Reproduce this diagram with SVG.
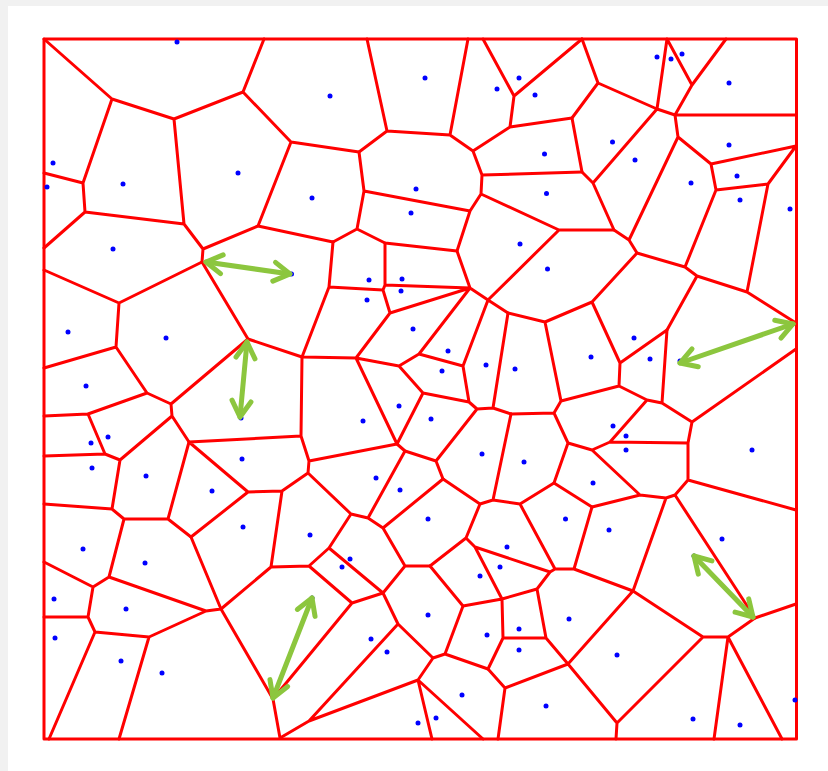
<svg xmlns="http://www.w3.org/2000/svg" width="828" height="771" viewBox="0 0 828 771">
<style>
.edge{fill:none;stroke:#ff0000;stroke-width:3;stroke-linejoin:round;stroke-linecap:round}
.site{fill:#0000ff}
.arrow{fill:none;stroke:#8cc63e;stroke-width:5;stroke-linecap:round;stroke-linejoin:round}
</style>
<defs>
<marker id="chev" markerUnits="userSpaceOnUse" orient="auto-start-reverse" viewBox="-22 -14 28 28" markerWidth="28" markerHeight="28" refX="0" refY="0" overflow="visible">
<path d="M-16,-9.5 L0,0 L-16,9.5" fill="none" stroke="#8cc63e" stroke-width="5" stroke-linecap="round" stroke-linejoin="round"/>
</marker>
</defs>
<rect x="0" y="0" width="828" height="771" fill="#f1f1f1"/>
<rect x="8" y="6" width="820" height="765" fill="#ffffff"/>
<g id="frame"><rect class="edge" x="44" y="39" width="752.5" height="700"/></g>
<g id="cell-edges" class="edge">
<path d="M44,39L112,99M112,99L174,119M174,119L243,92M243,92L264,39M243,92L291,142M112,99L83,183M83,183L44,173M83,183L85,212M85,212L44,248M85,212L184,224M174,119L184,224M184,224L203,249M203,249L258,226M258,226L291,142M203,249L202,262M291,142L359,152M258,226L333,242"/>
<path d="M367,39L387,131M387,131L450,135M450,135L468,39M387,131L359,152M359,152L364,191M364,191L357,229M364,191L470,211M357,229L333,242M357,229L385,243M385,243L457,251M457,251L470,211M470,211L481,194M481,194L482,175M482,175L473,151M473,151L450,135M473,151L510,127M510,127L514,96M514,96L483,39M514,96L582,39M510,127L572,118M482,175L582,172M481,194L559,230M559,230L614,230M559,230L488,300"/>
<path d="M582,39L598,83M598,83L572,118M598,83L657,109M657,109L667,39M657,109L675,115M667,39L692,85M692,85L726,39M692,85L675,115M675,115L796,115M675,115L678,137M572,118L582,172M582,172L593,183M593,183L657,109M593,183L614,230M614,230L629,240M678,137L629,240M678,137L711,164M711,164L796,146M711,164L716,190M716,190L768,184M768,184L796,146M768,184L747,292M716,190L685,267M629,240L637,253M637,253L685,267M685,267L697,276M697,276L747,292M747,292L796,323M697,276L667,330"/>
<path d="M637,253L592,302M592,302L545,322M545,322L508,313M545,322L561,401M561,401L554,413M554,413L511,414M561,401L619,386M592,302L620,363M620,363L619,386M620,363L667,330M667,330L662,403M619,386L647,400M647,400L662,403M662,403L692,422M692,422L796,349M692,422L688,443M688,443L610,442M647,400L610,442M610,442L592,450M592,450L568,443M568,443L554,413M568,443L554,483M554,483L592,507M592,450L640,495M640,495L592,507M640,495L666,498M666,498L675,495M675,495L688,480M688,480L688,443M688,480L796,510M666,498L633,591M675,495L755,618"/>
<path d="M592,507L574,569M574,569L555,569M574,569L633,591M633,591L703,637M703,637L728,637M728,637L755,618M755,618L796,604M728,637L714,739M728,637L782,739M703,637L617,723M617,723L616,739M617,723L568,664M568,664L633,591M568,664L546,638M568,664L505,688M505,688L498,739M505,688L488,669M488,669L503,638M503,638L546,638M546,638L537,589M537,589L550,572M550,572L555,569M555,569L520,504M537,589L502,599M502,599L503,638M502,599L475,547M502,599L463,606M475,547L550,572M475,547L466,538M466,538L480,504M466,538L430,566M480,504L493,500M493,500L520,504M520,504L554,483M480,504L443,479M493,500L511,414"/>
<path d="M463,606L430,566M463,606L445,654M445,654L488,669M445,654L433,658M433,658L398,624M433,658L418,680M418,680L432,739M418,680L483,739M418,680L309,721M309,721L398,624M309,721L280,738M280,738L273,699M398,624L383,593M383,593L405,566M405,566L430,566M405,566L383,528M383,528L443,479M383,528L368,518M368,518L351,514M368,518L405,451M351,514L308,473M351,514L329,548M329,548L309,566M329,548L383,593M309,566L352,603M309,566L271,567M352,603L383,593M352,603L273,699M273,699L221,609M221,609L271,567M271,567L282,491M282,491L308,473M308,473L309,461M309,461L301,436M309,461L397,444M301,436L302,357M301,436L189,442M282,491L248,492M248,492L189,442M248,492L191,537"/>
<path d="M443,479L436,461M436,461L405,451M405,451L397,444M436,461L477,409M477,409L469,402M477,409L493,408M493,408L511,414M493,408L508,313M508,313L488,300M488,300L463,366M488,300L470,288M463,366L469,402M463,366L419,354M469,402L423,393M423,393L399,366M423,393L397,444M399,366L419,354M399,366L356,358M356,358L397,444M356,358L302,357M356,358L390,313M390,313L383,290M390,313L470,288M383,290L385,285M383,290L329,287M385,285L385,243M385,285L470,288M470,288L457,251M470,288L419,354M329,287L333,242M329,287L302,357M302,357L248,339M248,339L202,262"/>
<path d="M202,262L119,303M119,303L44,270M119,303L116,347M116,347L44,368M116,347L147,393M147,393L88,414M88,414L44,416M147,393L171,404M248,339L171,404M171,404L172,416M172,416L189,442M172,416L120,460M88,414L105,454M105,454L44,456M105,454L120,460M120,460L112,509M112,509L44,504M112,509L124,519M124,519L168,519M168,519L189,442M168,519L191,537M191,537L221,609M221,609L206,611M206,611L109,577M124,519L109,577M109,577L93,587M93,587L44,562M93,587L88,617M88,617L44,617M88,617L95,632M95,632L149,637M149,637L206,611M95,632L49,739M149,637L119,739"/>
</g>
<g id="sites" class="site">
<circle cx="177" cy="42" r="2.5"/><circle cx="53" cy="163" r="2.5"/><circle cx="47" cy="187" r="2.5"/><circle cx="123" cy="184" r="2.5"/><circle cx="238" cy="173" r="2.5"/><circle cx="113" cy="249" r="2.5"/>
<circle cx="330" cy="96" r="2.5"/><circle cx="425" cy="78" r="2.5"/><circle cx="497" cy="89" r="2.5"/><circle cx="519" cy="78" r="2.5"/><circle cx="535" cy="95" r="2.5"/><circle cx="544.5" cy="154" r="2.5"/><circle cx="546.5" cy="193.5" r="2.5"/><circle cx="416" cy="189" r="2.5"/><circle cx="411" cy="213" r="2.5"/><circle cx="312" cy="198" r="2.5"/><circle cx="520" cy="244" r="2.5"/><circle cx="547.5" cy="269" r="2.5"/>
<circle cx="657" cy="57" r="2.5"/><circle cx="671" cy="59" r="2.5"/><circle cx="682" cy="54" r="2.5"/><circle cx="729" cy="83" r="2.5"/><circle cx="612.5" cy="142" r="2.5"/><circle cx="635" cy="160" r="2.5"/><circle cx="691" cy="183" r="2.5"/><circle cx="729" cy="145" r="2.5"/><circle cx="737" cy="176" r="2.5"/><circle cx="740" cy="200" r="2.5"/><circle cx="790" cy="209" r="2.5"/>
<circle cx="68" cy="332" r="2.5"/><circle cx="166" cy="338" r="2.5"/><circle cx="86" cy="386" r="2.5"/><circle cx="108" cy="437" r="2.5"/><circle cx="91" cy="443" r="2.5"/><circle cx="92" cy="468" r="2.5"/><circle cx="146" cy="476" r="2.5"/><circle cx="212" cy="491" r="2.5"/><circle cx="242" cy="459" r="2.5"/><circle cx="241" cy="418" r="2.5"/><circle cx="291.5" cy="274" r="2.5"/>
<circle cx="369" cy="280" r="2.5"/><circle cx="402" cy="279" r="2.5"/><circle cx="401" cy="291" r="2.5"/><circle cx="367" cy="300" r="2.5"/><circle cx="413" cy="329" r="2.5"/><circle cx="448" cy="351" r="2.5"/><circle cx="442" cy="371" r="2.5"/><circle cx="486" cy="365" r="2.5"/><circle cx="515" cy="369" r="2.5"/><circle cx="399" cy="406" r="2.5"/><circle cx="431" cy="419" r="2.5"/><circle cx="363" cy="421" r="2.5"/><circle cx="482" cy="454" r="2.5"/><circle cx="524" cy="462" r="2.5"/><circle cx="376" cy="478" r="2.5"/><circle cx="400" cy="490" r="2.5"/><circle cx="428" cy="519" r="2.5"/>
<circle cx="634" cy="338" r="2.5"/><circle cx="591" cy="357" r="2.5"/><circle cx="650" cy="359" r="2.5"/><circle cx="680" cy="361" r="2.5"/><circle cx="613" cy="426" r="2.5"/><circle cx="626" cy="436" r="2.5"/><circle cx="626" cy="450" r="2.5"/><circle cx="752" cy="450" r="2.5"/><circle cx="593" cy="483" r="2.5"/><circle cx="565.5" cy="519" r="2.5"/>
<circle cx="243" cy="527" r="2.5"/><circle cx="83" cy="549" r="2.5"/><circle cx="145" cy="563" r="2.5"/><circle cx="54" cy="599" r="2.5"/><circle cx="126" cy="609" r="2.5"/><circle cx="55" cy="638" r="2.5"/><circle cx="121" cy="661" r="2.5"/><circle cx="162" cy="673" r="2.5"/>
<circle cx="310" cy="535" r="2.5"/><circle cx="350" cy="559" r="2.5"/><circle cx="342" cy="567" r="2.5"/><circle cx="312" cy="598" r="2.5"/><circle cx="371" cy="639" r="2.5"/><circle cx="387" cy="652" r="2.5"/><circle cx="428" cy="615" r="2.5"/><circle cx="480" cy="576" r="2.5"/><circle cx="500" cy="567" r="2.5"/><circle cx="507" cy="547" r="2.5"/><circle cx="487" cy="635" r="2.5"/><circle cx="519" cy="629" r="2.5"/><circle cx="519" cy="650" r="2.5"/><circle cx="462" cy="695" r="2.5"/><circle cx="436" cy="718" r="2.5"/><circle cx="418" cy="723" r="2.5"/><circle cx="546" cy="706" r="2.5"/>
<circle cx="609" cy="530" r="2.5"/><circle cx="722" cy="539" r="2.5"/><circle cx="694" cy="556" r="2.5"/><circle cx="569" cy="619" r="2.5"/><circle cx="617" cy="655" r="2.5"/><circle cx="693" cy="719" r="2.5"/><circle cx="740" cy="725" r="2.5"/><circle cx="795" cy="700" r="2.5"/>
</g>
<g id="arrows" class="arrow">
<path d="M206,262L290,274" marker-start="url(#chev)" marker-end="url(#chev)"/>
<path d="M247,342L240,417" marker-start="url(#chev)" marker-end="url(#chev)"/>
<path d="M680,363L793,324" marker-start="url(#chev)" marker-end="url(#chev)"/>
<path d="M694,556L753,617" marker-start="url(#chev)" marker-end="url(#chev)"/>
<path d="M312,598L273,698" marker-start="url(#chev)" marker-end="url(#chev)"/>
</g>
</svg>
